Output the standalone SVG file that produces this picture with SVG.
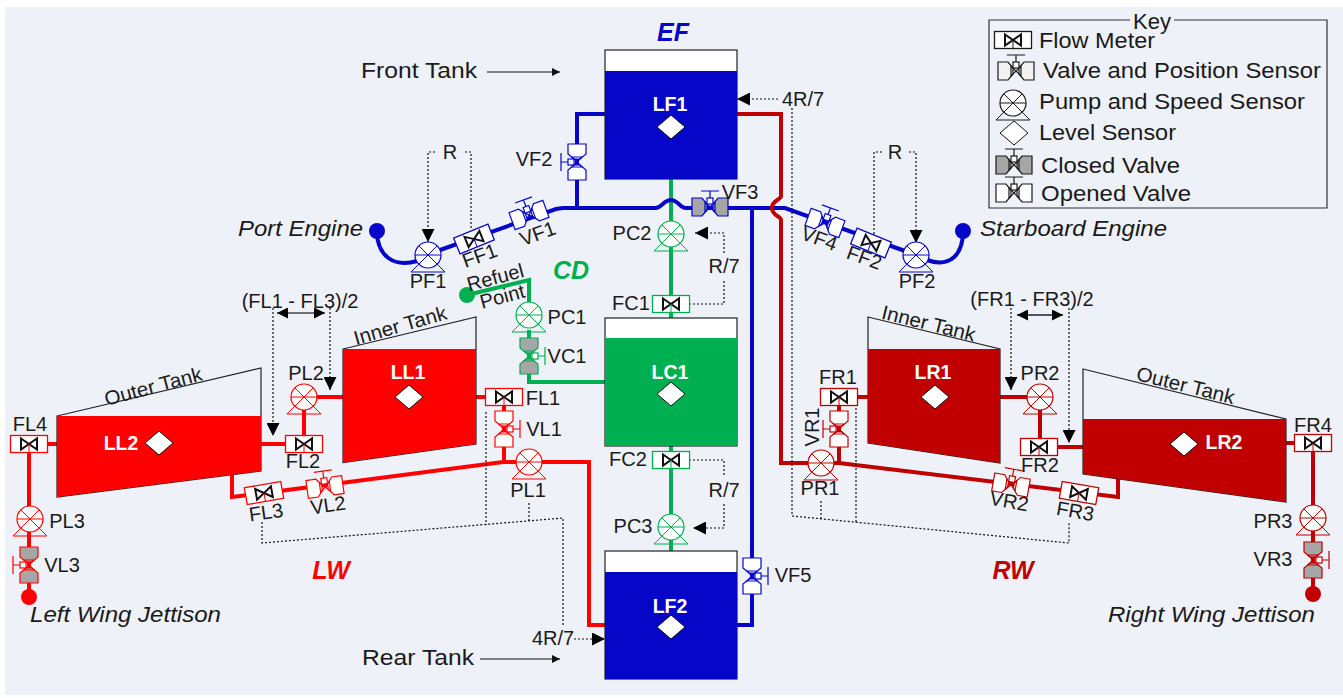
<svg xmlns="http://www.w3.org/2000/svg" width="1343" height="698" viewBox="0 0 1343 698">
<style>
text{font-family:"Liberation Sans",Arial,sans-serif;fill:#1a1a1a}
.l{font-size:20px;text-anchor:middle}
.b{font-size:22px}
.i{font-size:22px;font-style:italic}
.k{font-size:22px}
.t{font-size:19.5px;font-weight:bold;fill:#fff;text-anchor:middle}
.g{font-size:25px;font-weight:bold;font-style:italic;text-anchor:middle}
.blue{color:#0606c8;stroke:#0606c8}
.red{color:#ff0000;stroke:#ff0000}
.dred{color:#c00000;stroke:#c00000}
.green{color:#00b050;stroke:#00b050}
.blk{color:#1a1a1a;stroke:#1a1a1a}
.pipe{fill:none;stroke-width:4;stroke-linejoin:miter}
.dot{fill:none;stroke:#111;stroke-width:1.2;stroke-dasharray:2 2}
.open{fill:#fff}
.shut{fill:#a6a6a6}
.lite{fill:#f2f2f2}
.tank{stroke:#222;stroke-width:1.2}
.key{fill:none;stroke:#333;stroke-width:1.2}
.dia{fill:#fff;stroke:#111;stroke-width:1}
</style>
<defs>
<g id="pump" fill="none" stroke="currentColor" stroke-width="1">
<path d="M-9,9L-17,17H17L9,9"/>
<circle r="13" fill="#fff" stroke-width="1.2"/>
<path d="M-13,0H13M-9,-9L9,9M-9,9L9,-9"/>
</g>
<g id="valve" stroke="currentColor" stroke-width="1.2">
<path d="M-18,-9H-8L-3,-3V3L-8,9H-18ZM18,-9H8L3,-3V3L8,9H18Z"/>
<path d="M-5,-5L5,5V-5L-5,5Z" fill="none"/>
<rect x="-3" y="-9" width="6" height="6" fill="#fff"/>
<path d="M0,-9V-16M-9,-16H9" fill="none"/>
</g>
<g id="meter">
<rect x="-18.5" y="-8.5" width="37" height="17" fill="#fff" stroke="currentColor" stroke-width="1.3"/>
<path d="M-8,-5.5L8,5.5V-5.5L-8,5.5Z" fill="none" stroke="#111" stroke-width="2"/>
<path d="M0,0V8.5" fill="none" stroke="currentColor" stroke-width="1"/>
</g>
<path id="dmd" class="dia" d="M0,-12L14,0L0,12L-14,0Z"/>
<marker id="ah" viewBox="0 0 13 13" refX="13" refY="6.5" markerWidth="13" markerHeight="13" markerUnits="userSpaceOnUse" orient="auto"><path d="M0,0L13,6.5L0,13Z" fill="#000"/></marker>
<marker id="as" viewBox="0 0 8 8" refX="8" refY="4" markerWidth="8" markerHeight="8" markerUnits="userSpaceOnUse" orient="auto"><path d="M0,0L8,4L0,8Z" fill="#111"/></marker>
<marker id="ad" viewBox="0 0 11 11" refX="11" refY="5.5" markerWidth="11" markerHeight="11" markerUnits="userSpaceOnUse" orient="auto-start-reverse"><path d="M0,0L11,5.5L0,11Z" fill="#000"/></marker>
</defs>
<rect x="5" y="7" width="1338" height="688" fill="#eef1f7"/>

<g id="connectors">
<g class="green pipe">
<path d="M671,179V318M671,446V551"/>
<path d="M467,295L529,280V315"/>
<path d="M529,330V382H605"/>
</g>
<g class="blue pipe">
<path d="M377,231C377,256 394,268 417,261"/>
<path d="M440,250L556,209L563,208H656C662,207 664,200 671,200C678,200 680,208 686,208H772L785,208L905,251"/>
<path d="M927,260C950,268 963,255 963,231"/>
<path d="M605,114H577V208"/>
<path d="M752,208V625H737"/>
</g>
<g class="red pipe">
<path d="M57,444H29V597"/>
<path d="M261,444H304V397H343"/>
<path d="M232,475V497L264,493L503,462H589V625H605"/>
<path d="M476,397H504V462"/>
</g>
<g class="dred pipe">
<path d="M737,114H781V196C781,200 772,200 772,208C772,216 781,216 781,220V463H839L1118,497V479"/>
<path d="M868,397H839V463"/>
<path d="M1000,397H1040V447H1083"/>
<path d="M1286,443H1313V594"/>
</g>
<g id="dotted">
<path class="dot" d="M471,228V152H463M435,152H428V242" marker-end="url(#ah)"/>
<path class="dot" d="M874,234V152H882M909,152H916V243" marker-end="url(#ah)"/>
<path class="dot" d="M778,99H737" marker-end="url(#ah)"/>
<path class="dot" d="M792,108V516L1069,543V522"/>
<path class="dot" d="M821,501V519M856,408V522"/>
<path class="dot" d="M262,522V543L563,518V626"/>
<path class="dot" d="M486,412V525M529,503V521"/>
<path class="dot" d="M574,639H605" marker-end="url(#ah)"/>
<path class="dot" d="M689,304H724V281M724,253V233H695" marker-end="url(#ah)"/>
<path class="dot" d="M689,460H724V476M724,504V528H693" marker-end="url(#ah)"/>
<path class="dot" d="M273,308V436" marker-end="url(#ah)"/>
<path class="dot" d="M330,308V390" marker-end="url(#ah)"/>
<path class="dot" d="M1011,308V390" marker-end="url(#ah)"/>
<path class="dot" d="M1069,308V443" marker-end="url(#ah)"/>
<path d="M277,313H325" fill="none" stroke="#444" stroke-width="1.5" marker-start="url(#ad)" marker-end="url(#ad)"/>
<path d="M1017,315H1063" fill="none" stroke="#222" stroke-width="1.5" marker-start="url(#ad)" marker-end="url(#ad)"/>
<path d="M487,72H560" fill="none" stroke="#111" stroke-width="1.2" marker-end="url(#as)"/>
<path d="M480,659H560" fill="none" stroke="#111" stroke-width="1.2" marker-end="url(#as)"/>
</g>
</g>

<g id="tank-LF1"><rect class="tank" x="605" y="50" width="132" height="129" fill="#fff"/><rect x="605" y="71" width="132" height="108" fill="#0606c8"/><text class="t" x="670" y="111">LF1</text><use href="#dmd" x="671" y="127"/></g>
<g id="tank-LC1"><rect class="tank" x="605" y="318" width="132" height="128" fill="#fff"/><rect x="605" y="338" width="132" height="108" fill="#00b050"/><text class="t" x="670" y="379">LC1</text><use href="#dmd" x="671" y="394"/></g>
<g id="tank-LF2"><rect class="tank" x="605" y="551" width="132" height="128" fill="#fff"/><rect x="605" y="572" width="132" height="107" fill="#0606c8"/><text class="t" x="670" y="613">LF2</text><use href="#dmd" x="671" y="627"/></g>
<g id="tank-LL1"><path class="tank" d="M343,349L476,317V444L343,462.5Z" fill="none"/><path d="M343,349H476V444L343,462.5Z" fill="#ff0000"/><text class="t" x="408" y="379">LL1</text><use href="#dmd" x="409" y="397"/><text class="l" transform="translate(402,332) rotate(-16) scale(1.03,1)">Inner Tank</text></g>
<g id="tank-LL2"><path class="tank" d="M57,416L261,368V471L57,497Z" fill="none"/><path d="M57,416H261V471L57,497Z" fill="#ff0000"/><text class="t" x="121" y="450">LL2</text><use href="#dmd" x="159" y="443"/><text class="l" transform="translate(155,393) rotate(-15) scale(1.03,1)">Outer Tank</text></g>
<g id="tank-LR1"><path class="tank" d="M868,317L1000,349V463L868,443Z" fill="none"/><path d="M868,349H1000V463L868,443Z" fill="#c00000"/><text class="t" x="933" y="379">LR1</text><use href="#dmd" x="935" y="397"/><text class="l" transform="translate(927,330) rotate(14) scale(1.03,1)">Inner Tank</text></g>
<g id="tank-LR2"><path class="tank" d="M1083,369L1286,419V502L1083,474Z" fill="none"/><path d="M1083,419H1286V502L1083,474Z" fill="#c00000"/><text class="t" x="1224" y="449">LR2</text><use href="#dmd" x="1184" y="444"/><text class="l" transform="translate(1184,392) rotate(14) scale(1.03,1)">Outer Tank</text></g>

<g id="PF1"><use href="#pump" class="blue" x="428" y="255"/><text class="l" x="428" y="288">PF1</text></g>
<g id="PF2"><use href="#pump" class="blue" x="916" y="255"/><text class="l" x="917" y="288">PF2</text></g>
<g id="PC1"><use href="#pump" class="green" x="529" y="315"/><text class="l" x="567" y="324">PC1</text></g>
<g id="PC2"><use href="#pump" class="green" x="671" y="234"/><text class="l" x="632" y="240">PC2</text></g>
<g id="PC3"><use href="#pump" class="green" x="671" y="527"/><text class="l" x="633" y="533">PC3</text></g>
<g id="PL1"><use href="#pump" class="red" x="529" y="462"/><text class="l" x="528" y="497">PL1</text></g>
<g id="PL2"><use href="#pump" class="red" x="304" y="397"/><text class="l" x="306" y="380">PL2</text></g>
<g id="PL3"><use href="#pump" class="red" x="30" y="519"/><text class="l" x="67" y="528">PL3</text></g>
<g id="PR1"><use href="#pump" class="dred" x="821" y="463"/><text class="l" x="820" y="495">PR1</text></g>
<g id="PR2"><use href="#pump" class="dred" x="1040" y="397"/><text class="l" x="1040" y="380">PR2</text></g>
<g id="PR3"><use href="#pump" class="dred" x="1313" y="518"/><text class="l" x="1273" y="528">PR3</text></g>

<g id="VF1"><use href="#valve" class="blue open" transform="translate(529,215) rotate(-20)"/><text class="l" transform="translate(540,240) rotate(-20)">VF1</text></g>
<g id="VF2"><use href="#valve" class="blue open" transform="translate(577,162) rotate(-90)"/><text class="l" x="534" y="166">VF2</text></g>
<g id="VF3"><use href="#valve" class="blue shut" transform="translate(710,207)"/><text class="l" x="740" y="199">VF3</text></g>
<g id="VF4"><use href="#valve" class="blue open" transform="translate(825,223) rotate(20)"/><text class="l" transform="translate(817,245) rotate(20)">VF4</text></g>
<g id="VF5"><use href="#valve" class="blue open" transform="translate(752,576) rotate(90)"/><text class="l" x="793" y="582">VF5</text></g>
<g id="VC1"><use href="#valve" class="green shut" transform="translate(529,356) rotate(90)"/><text class="l" x="567" y="363">VC1</text></g>
<g id="VL1"><use href="#valve" class="red open" transform="translate(504,429) rotate(90)"/><text class="l" x="544" y="436">VL1</text></g>
<g id="VL2"><use href="#valve" class="red open" transform="translate(325,487) rotate(-8)"/><text class="l" transform="translate(329,512) rotate(-8)">VL2</text></g>
<g id="VL3"><use href="#valve" class="red shut" transform="translate(29,565) rotate(-90)"/><text class="l" x="62" y="572">VL3</text></g>
<g id="VR1"><use href="#valve" class="dred open" transform="translate(839,429) rotate(-90)"/><text class="l" transform="translate(819,427) rotate(-90)">VR1</text></g>
<g id="VR2"><use href="#valve" class="dred open" transform="translate(1011,485) rotate(10)"/><text class="l" transform="translate(1008,508) rotate(10)">VR2</text></g>
<g id="VR3"><use href="#valve" class="dred shut" transform="translate(1313,560) rotate(90)"/><text class="l" x="1273" y="566">VR3</text></g>

<g id="FF1"><use href="#meter" class="blue" transform="translate(474,239) rotate(-22)"/><text class="l" transform="translate(482,262) rotate(-20)">FF1</text></g>
<g id="FF2"><use href="#meter" class="blue" transform="translate(871,243) rotate(22)"/><text class="l" transform="translate(862,264) rotate(20)">FF2</text></g>
<g id="FC1"><use href="#meter" class="green" x="671" y="304"/><text class="l" x="631" y="310">FC1</text></g>
<g id="FC2"><use href="#meter" class="green" x="671" y="460"/><text class="l" x="628" y="466">FC2</text></g>
<g id="FL1"><use href="#meter" class="red" x="504" y="397"/><text class="l" x="543" y="405">FL1</text></g>
<g id="FL2"><use href="#meter" class="red" x="304" y="444"/><text class="l" x="303" y="468">FL2</text></g>
<g id="FL3"><use href="#meter" class="red" transform="translate(264,493) rotate(-10)"/><text class="l" transform="translate(267,519) rotate(-8)">FL3</text></g>
<g id="FL4"><use href="#meter" class="red" x="29" y="444"/><text class="l" x="30" y="431">FL4</text></g>
<g id="FR1"><use href="#meter" class="dred" x="839" y="397"/><text class="l" x="838" y="384">FR1</text></g>
<g id="FR2"><use href="#meter" class="dred" x="1039" y="447"/><text class="l" x="1040" y="472">FR2</text></g>
<g id="FR3"><use href="#meter" class="dred" transform="translate(1079,493) rotate(10)"/><text class="l" transform="translate(1074,518) rotate(10)">FR3</text></g>
<g id="FR4"><use href="#meter" class="dred" x="1313" y="443"/><text class="l" x="1313" y="432">FR4</text></g>

<g id="ports">
<circle cx="377" cy="231" r="8" fill="#0606c8"/>
<circle cx="963" cy="231" r="8" fill="#0606c8"/>
<circle cx="467" cy="295" r="8" fill="#00b050"/>
<circle cx="29" cy="597" r="8" fill="#ff0000"/>
<circle cx="1313" cy="594" r="8" fill="#c00000"/>
</g>

<g id="labels">
<text class="b" x="361" y="78" textLength="116" lengthAdjust="spacingAndGlyphs">Front Tank</text>
<text class="b" x="362" y="665" textLength="112" lengthAdjust="spacingAndGlyphs">Rear Tank</text>
<text class="i" x="238" y="236" textLength="125" lengthAdjust="spacingAndGlyphs">Port Engine</text>
<text class="i" x="980" y="236" textLength="187" lengthAdjust="spacingAndGlyphs">Starboard Engine</text>
<text class="i" x="30" y="622" textLength="191" lengthAdjust="spacingAndGlyphs">Left Wing Jettison</text>
<text class="i" x="1108" y="622" textLength="207" lengthAdjust="spacingAndGlyphs">Right Wing Jettison</text>
<text class="g" x="673" y="41" style="fill:#0606c8">EF</text>
<text class="g" x="571" y="279" style="fill:#00b050">CD</text>
<text class="g" x="331" y="579" style="fill:#ff0000">LW</text>
<text class="g" x="1013" y="579" style="fill:#c00000">RW</text>
<text class="l" x="450" y="159">R</text>
<text class="l" x="895" y="159">R</text>
<text class="l" x="803" y="106">4R/7</text>
<text class="l" x="553" y="645">4R/7</text>
<text class="l" x="724" y="273">R/7</text>
<text class="l" x="724" y="497">R/7</text>
<text class="l" x="300" y="308">(FL1 - FL3)/2</text>
<text class="l" x="1032" y="306">(FR1 - FR3)/2</text>
<text class="l" transform="translate(497,284) rotate(-15)">Refuel</text>
<text class="l" transform="translate(504,303) rotate(-15)">Point</text>
</g>

<g id="key">
<path class="key" d="M1130,20H989V208H1327V20H1174"/>
<text class="k" x="1152" y="29" text-anchor="middle">Key</text>
<use href="#meter" class="blk" x="1013" y="40"/>
<text class="k" x="1039" y="48" textLength="116" lengthAdjust="spacingAndGlyphs">Flow Meter</text>
<use href="#valve" class="blk lite" transform="translate(1016,71)"/>
<text class="k" x="1043" y="78" textLength="278" lengthAdjust="spacingAndGlyphs">Valve and Position Sensor</text>
<use href="#pump" class="blk" x="1013" y="103"/>
<text class="k" x="1039" y="109" textLength="266" lengthAdjust="spacingAndGlyphs">Pump and Speed Sensor</text>
<use href="#dmd" x="1014" y="133"/>
<text class="k" x="1039" y="140" textLength="137" lengthAdjust="spacingAndGlyphs">Level Sensor</text>
<use href="#valve" class="blk shut" transform="translate(1014,165)"/>
<text class="k" x="1041" y="173" textLength="139" lengthAdjust="spacingAndGlyphs">Closed Valve</text>
<use href="#valve" class="blk open" transform="translate(1014,193)"/>
<text class="k" x="1041" y="201" textLength="150" lengthAdjust="spacingAndGlyphs">Opened Valve</text>
</g>
</svg>
